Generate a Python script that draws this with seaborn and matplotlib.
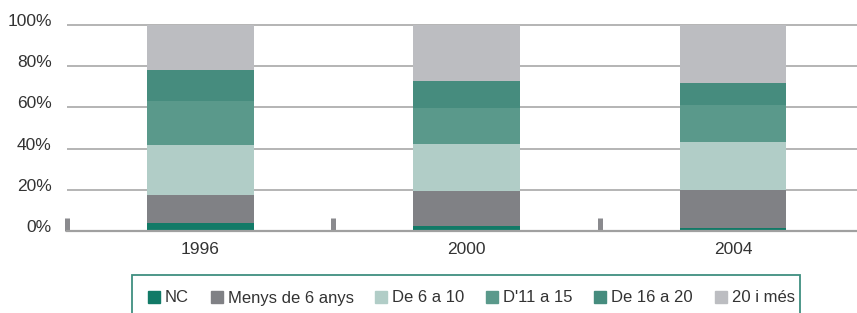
import numpy as np
import pandas as pd
import matplotlib
matplotlib.use('Agg')
import matplotlib.pyplot as plt
import matplotlib.transforms as mtransforms
from matplotlib.patches import Rectangle
import seaborn as sns

# dades
anys = ['1996', '2000', '2004']
categories = ['NC', 'Menys de 6 anys', 'De 6 a 10', "D'11 a 15", 'De 16 a 20', '20 i més']
nc = [3.9, 2.4, 1.5]
menys6 = [13.6, 17.0, 18.4]
de6a10 = [24.2, 22.8, 23.3]
de11a15 = [21.4, 17.7, 18.0]
de16a20 = [15.1, 12.9, 10.6]
mes20 = [21.8, 27.2, 28.2]
colors = ['#127a67', '#808185', '#b1cdc7', '#5a998b', '#468c7e', '#bcbdc1']

sns.set_style('white')
plt.rcParams['font.family'] = ['Liberation Sans', 'DejaVu Sans']
plt.rcParams['text.color'] = '#333333'

valors = np.array([nc, menys6, de6a10, de11a15, de16a20, mes20])
cum = np.cumsum(valors, axis=0)

fig = plt.figure(figsize=(8.57, 3.13), dpi=100)
ax = fig.add_axes([67 / 857, 1 - 231 / 313, 790 / 857, 208 / 313])

# barres apilades: dibuixar del total cap avall
for k in range(len(categories) - 1, -1, -1):
    df = pd.DataFrame({'any': anys, 'valor': cum[k]})
    sns.barplot(data=df, x='any', y='valor', color=colors[k], width=0.4,
                saturation=1, linewidth=0, ax=ax, zorder=3)

ax.set_xlim(-0.5, 2.465)
ax.set_ylim(0, 101)
ax.set_yticks([0, 20, 40, 60, 80, 100])
ax.set_yticklabels(['0%', '20%', '40%', '60%', '80%', '100%'], fontsize=12.5)
ax.set_xlabel('')
ax.set_ylabel('')
ax.grid(axis='y', color='#a8a8a8', linewidth=1.2, zorder=0)
ax.set_axisbelow(True)
for s in ['top', 'right', 'left']:
    ax.spines[s].set_visible(False)
ax.spines['bottom'].set_color('#a0a0a0')
ax.spines['bottom'].set_linewidth(1.6)
ax.spines['bottom'].set_zorder(4)

ax.tick_params(axis='y', length=0, pad=11, labelcolor='#333333')
ax.tick_params(axis='x', length=0, pad=8, labelsize=12.5, labelcolor='#333333')
ax.set_xticks([-0.5, 0.5, 1.5], minor=True)
ax.tick_params(axis='x', which='minor', bottom=True, direction='in', length=9.5,
               width=3.6, color='#8a8a8e')

off = mtransforms.ScaledTranslation(0, 5 / 100, fig.dpi_scale_trans)
for lab in ax.get_yticklabels():
    lab.set_transform(lab.get_transform() + off)

# llegenda
fig.patches.append(Rectangle((132 / 857, -0.1), (800 - 132) / 857, 0.1 + (313 - 275) / 313,
                             transform=fig.transFigure, fill=False,
                             edgecolor='#3f8f80', linewidth=1.3))
handles = [Rectangle((0, 0), 1, 1, color=c) for c in colors]
fig.legend(handles, categories, loc='center left', ncol=6, frameon=False,
           bbox_to_anchor=(148 / 857, 1 - 298 / 313), fontsize=12,
           handlelength=0.72, handleheight=0.72, handletextpad=0.3,
           columnspacing=1.3, borderaxespad=0, borderpad=0)

fig.savefig('out.png', dpi=100)
